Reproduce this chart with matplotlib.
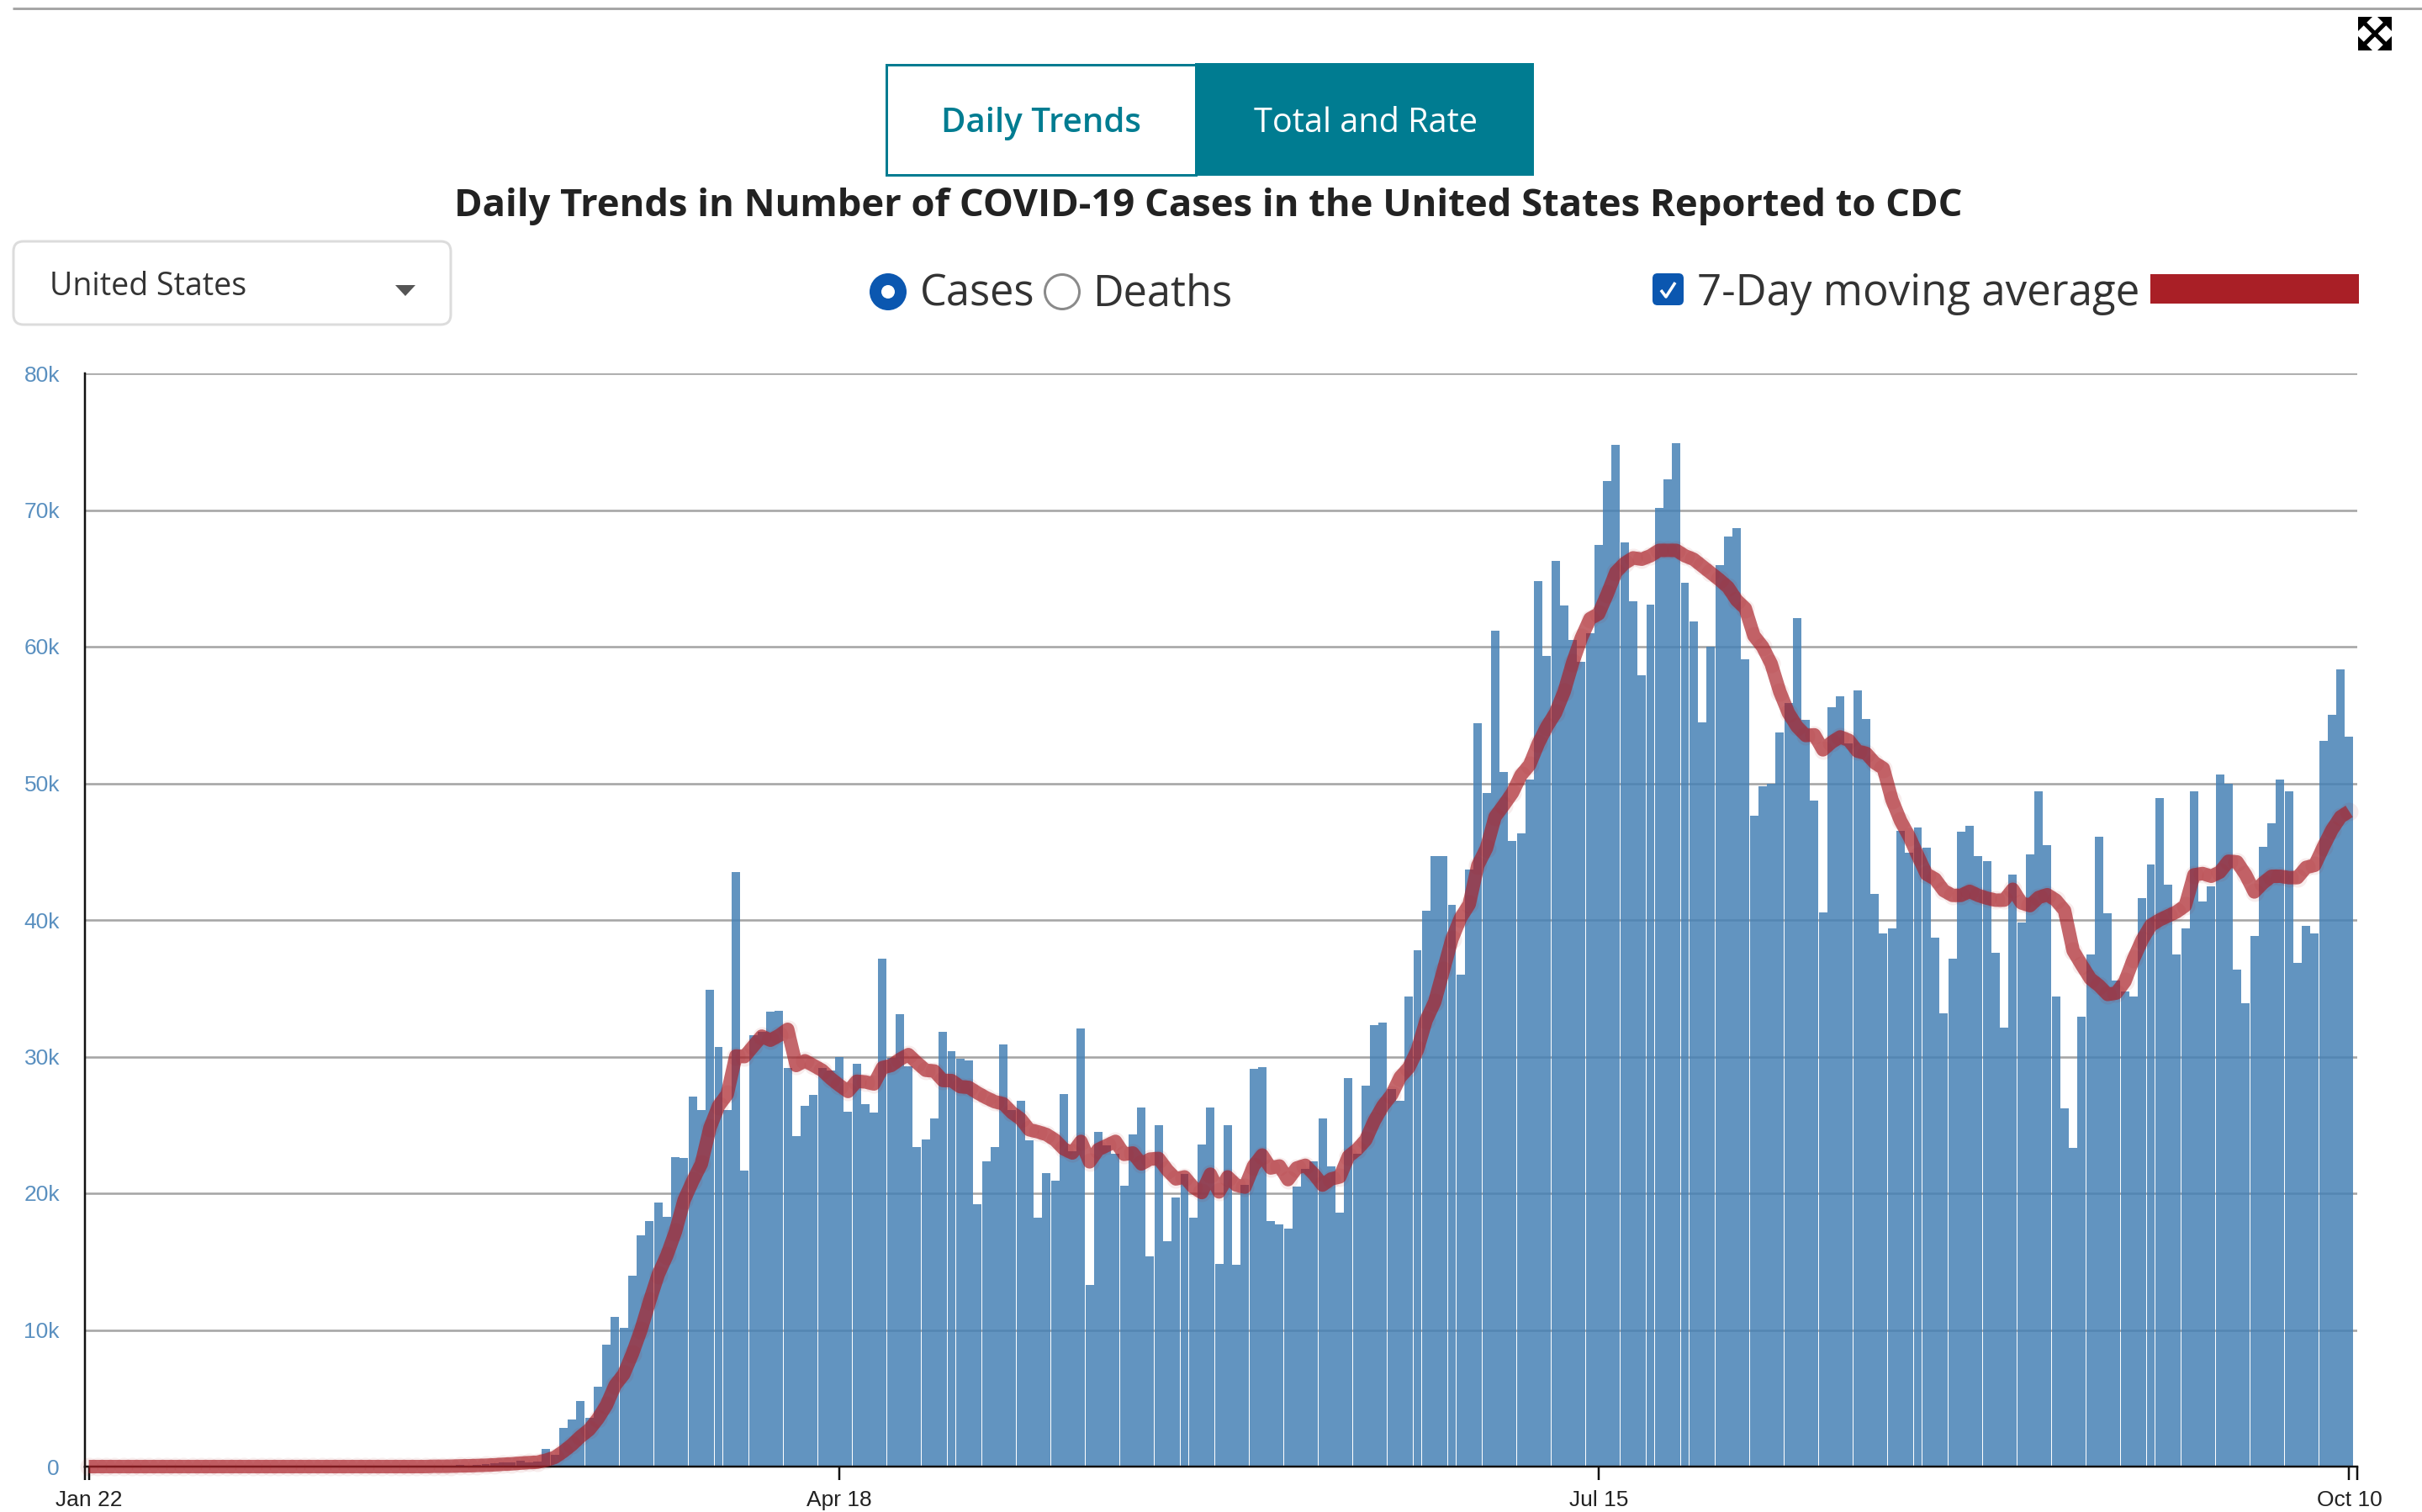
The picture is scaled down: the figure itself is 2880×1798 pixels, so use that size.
import matplotlib
matplotlib.use("Agg")
import matplotlib.pyplot as plt
from matplotlib.patches import Rectangle, FancyBboxPatch, Circle, Polygon
from matplotlib.ticker import FixedLocator

W, H = 2880, 1798

cases_early = [0] * 43 + [0.12, 0.06, 0.14, 0.20, 0.25, 0.28, 0.30, 0.45, 0.33, 0.40]
cases_mar_may = [
    1.3, 0.85, 2.85, 3.45, 4.8, 3.6, 5.85, 8.9, 10.95, 10.15, 14.0, 16.9, 17.95, 19.35, 18.3, 22.65,
    22.6, 27.1, 26.1, 34.9, 30.7, 26.1, 43.5, 21.65, 31.55, 31.8, 33.3, 33.35, 29.15, 24.2, 26.4, 27.2,
    29.2, 29.0, 30.0, 26.0, 29.5, 26.5, 25.9, 37.15, 29.9, 33.1, 29.3, 23.4, 23.95, 25.5, 31.8, 30.4,
    29.85, 29.75,
]
cases_may_jun = [
    19.2, 22.35, 23.4, 30.9, 26.1, 26.75, 23.85, 18.2, 21.5, 20.95, 27.25, 23.05, 32.05, 13.3, 24.5, 23.5,
    22.9, 20.55, 24.3, 26.3, 15.4, 25.0, 16.5, 19.7, 21.4, 18.2, 23.6, 26.25, 14.85, 25.0, 14.75, 20.6,
    29.1, 29.25, 18.0, 17.7, 17.4, 20.5, 21.8, 22.35, 25.5, 22.0, 18.6, 28.45, 22.9, 27.9, 32.3, 32.5,
    27.65, 26.75, 34.4, 37.8, 40.65,
]
cases_jun_aug = [
    44.65, 44.7, 41.1, 36.0, 43.7, 54.4, 49.3, 61.2, 50.85, 45.8, 46.35, 50.3, 64.8, 59.35, 66.3, 63.0,
    60.5, 58.9, 61.0, 67.45, 72.1, 74.8, 67.65, 63.3, 57.9, 63.05, 70.15, 72.25, 74.9, 64.65, 61.85, 54.45,
    60.0, 66.0, 68.05, 68.7, 59.05, 47.65, 49.8, 50.0, 53.75, 55.9, 62.1, 54.65, 48.75, 40.55, 55.6, 56.4,
    52.9, 56.8, 54.7, 41.9, 39.0, 39.4, 46.5, 44.95, 46.75, 45.3,
]
cases_aug_oct = [
    38.7, 33.15, 37.15, 46.45, 46.9, 44.7, 44.3, 37.6, 32.15, 43.3, 39.8, 44.8, 49.4, 45.45, 34.4, 26.2,
    23.35, 32.95, 37.5, 46.1, 40.5, 35.6, 34.75, 34.4, 41.6, 44.05, 48.9, 42.6, 37.5, 39.4, 49.4, 41.35,
    42.45, 50.65, 50.0, 36.4, 33.9, 38.85, 45.35, 47.1, 50.25, 49.4, 36.85, 39.6, 39.0, 53.1, 55.0, 58.35,
    53.4,
]
cases = cases_early + cases_mar_may + cases_may_jun + cases_jun_aug + cases_aug_oct

avg_early = [0] * 40 + [0.02, 0.02, 0.03, 0.05, 0.06, 0.08, 0.10, 0.13, 0.17, 0.20, 0.25, 0.29, 0.32]
avg_mar_may = [
    0.47, 0.67, 1.1, 1.6, 2.2, 2.7, 3.5, 4.5, 5.95, 6.75, 8.25, 10.0, 12.1, 14.05, 15.45, 17.2,
    19.5, 20.9, 22.15, 24.8, 26.4, 27.25, 30.05, 30.0, 30.75, 31.5, 31.2, 31.55, 32.0, 29.35, 29.7, 29.35,
    29.0, 28.4, 27.9, 27.45, 28.2, 28.15, 28.0, 29.2, 29.35, 29.8, 30.15, 29.55, 29.0, 28.95, 28.25, 28.25,
    27.8, 27.75,
]
avg_may_jun = [
    27.35, 27.0, 26.7, 26.55, 25.9, 25.45, 24.65, 24.5, 24.3, 23.9, 23.25, 22.95, 23.8, 22.3, 23.2, 23.5,
    23.8, 22.85, 22.95, 22.15, 22.5, 22.55, 21.7, 21.05, 21.2, 20.45, 20.05, 21.4, 20.1, 21.2, 20.6, 20.45,
    22.0, 22.8, 21.85, 22.0, 21.0, 21.85, 22.05, 21.4, 20.6, 21.05, 21.2, 22.7, 23.2, 23.9, 25.3, 26.4,
    27.2, 28.5, 29.2, 30.5, 32.65,
]
avg_jun_aug = [
    34.0, 36.3, 38.6, 40.15, 41.15, 44.0, 45.25, 47.55, 48.4, 49.3, 50.6, 51.35, 52.9, 54.15, 55.15, 56.7,
    58.85, 60.65, 62.05, 62.4, 63.85, 65.45, 66.1, 66.5, 66.4, 66.65, 67.05, 67.05, 67.05, 66.65, 66.4, 65.9,
    65.4, 64.9, 64.35, 63.4, 62.8, 60.8, 60.0, 58.75, 56.7, 55.15, 54.15, 53.5, 53.55, 52.45, 53.0, 53.4,
    53.15, 52.35, 52.2, 51.5, 51.1, 48.8, 47.25, 46.1, 44.7, 43.35,
]
avg_aug_oct = [
    43.0, 42.15, 41.8, 41.8, 42.1, 41.8, 41.6, 41.45, 41.45, 42.25, 41.25, 41.05, 41.65, 41.85, 41.45, 40.7,
    37.75, 36.7, 35.7, 35.2, 34.55, 34.65, 35.5, 37.15, 38.55, 39.6, 40.0, 40.3, 40.6, 41.05, 43.3, 43.4,
    43.2, 43.5, 44.3, 44.25, 43.3, 42.05, 42.7, 43.2, 43.2, 43.1, 43.1, 43.85, 44.0, 45.35, 46.6, 47.55,
    47.95,
]
moving_avg = avg_early + avg_mar_may + avg_may_jun + avg_jun_aug + avg_aug_oct

days = list(range(len(cases)))
x_tick_days = [0, 87, 175, 262]
x_tick_labels = ["Jan 22", "Apr 18", "Jul 15", "Oct 10"]
y_ticks = [0, 10, 20, 30, 40, 50, 60, 70, 80]

TEAL = "#007c91"
RED = "#a91f26"
BLUE = "#0b57b0"
DARK = "#222222"
PX = 72 / 100  # points per pixel


def pt(px):
    return px * PX


fig = plt.figure(figsize=(W / 100, H / 100), dpi=100, facecolor="white")

# chart area
ax_l, ax_r, ax_t, ax_b = 100.5, 2803, 444, 1744
ax = fig.add_axes([ax_l / W, 1 - ax_b / H, (ax_r - ax_l) / W, (ax_b - ax_t) / H])
day0_px, day_px = 105.6, 10.259
ax.set_xlim((ax_l - day0_px) / day_px, (ax_r - day0_px) / day_px)
ax.set_ylim(0, 80)
ax.set_axisbelow(True)

ax.bar(days, cases, width=0.97, color="#4681b5", alpha=0.85, linewidth=0, zorder=2)
ax.plot(days, moving_avg, linestyle="none", marker="o", ms=pt(22), mfc=RED, mec="none",
        alpha=0.08, clip_on=False, zorder=4)
ax.plot(days, moving_avg, color=RED, lw=pt(16), alpha=0.68, clip_on=False, zorder=4,
        solid_capstyle="butt", solid_joinstyle="round")

ax.yaxis.grid(True, color="#a6a6a6", lw=pt(2.6), zorder=1)
ax.xaxis.grid(False)
for s in ("top", "right"):
    ax.spines[s].set_visible(False)
for s in ("left", "bottom"):
    ax.spines[s].set_color("#111111")
    ax.spines[s].set_linewidth(pt(2.5))
    ax.spines[s].set_zorder(3)

ax.set_yticks(y_ticks)
ax.set_yticklabels(["0"] + [f"{v}k" for v in y_ticks[1:]])
ax.set_xticks(x_tick_days)
ax.set_xticklabels(x_tick_labels)
ax.yaxis.set_minor_locator(FixedLocator([0, 80]))
ax.xaxis.set_minor_locator(FixedLocator(list(ax.get_xlim())))
ax.tick_params(axis="y", which="major", length=0, pad=pt(29.5), labelsize=19, labelcolor="#5a90c0",
               labelfontfamily="Liberation Sans")
ax.tick_params(axis="y", which="minor", length=pt(20), width=pt(2.5), color="#111111")
ax.tick_params(axis="x", which="major", length=pt(16), width=pt(2.5), color="#111111", pad=pt(12),
               labelsize=19, labelcolor=DARK, labelfontfamily="Liberation Sans")
ax.tick_params(axis="x", which="minor", length=pt(16), width=pt(2.5), color="#111111")

# interface elements, placed in figure pixels
ui = fig.add_axes([0, 0, 1, 1], facecolor="none")
ui.set_xlim(0, W)
ui.set_ylim(H, 0)
ui.axis("off")

ui.plot([15, W], [9.5, 9.5], color="#a6a6a6", lw=pt(3), solid_capstyle="butt")

# tab buttons
ui.add_patch(Rectangle((1053.5, 76.5), 368, 131, fc="white", ec=TEAL, lw=pt(3)))
ui.add_patch(Rectangle((1421, 75), 403, 134, fc=TEAL, ec="none"))
ui.text(1238, 157, "Daily Trends", color=TEAL, ha="center", va="baseline", fontsize=29,
        family="Open Sans", weight=600)
ui.text(1624, 157, "Total and Rate", color="white", ha="center", va="baseline", fontsize=28.5,
        family="Open Sans")

# title
ui.text(1437, 257, "Daily Trends in Number of COVID-19 Cases in the United States Reported to CDC",
        color=DARK, ha="center", va="baseline", fontsize=32.7, family="Open Sans", weight="bold")

# dropdown
ui.add_patch(FancyBboxPatch((28, 299), 496, 75, boxstyle="round,pad=12,rounding_size=12",
                            fc="white", ec="#dcdcdc", lw=pt(3)))
ui.text(59, 351, "United States", color="#333333", ha="left", va="baseline", fontsize=27,
        family="Open Sans")
ui.add_patch(Polygon([(470, 339), (494, 339), (482, 352)], fc="#555555", ec="none"))

# radios
ui.add_patch(Circle((1056, 347), 22, fc=BLUE, ec="none"))
ui.add_patch(Circle((1056, 347), 8, fc="white", ec="none"))
ui.text(1094, 363, "Cases", color="#333333", ha="left", va="baseline", fontsize=36.4, family="Open Sans")
ui.add_patch(Circle((1263, 347), 20.5, fc="white", ec="#8a8a8a", lw=pt(3)))
ui.text(1299, 363, "Deaths", color="#333333", ha="left", va="baseline", fontsize=36.4, family="Open Sans")

# checkbox and legend swatch
ui.add_patch(FancyBboxPatch((1970, 330), 27, 28, boxstyle="round,pad=5,rounding_size=6", fc=BLUE, ec="none"))
ui.plot([1975, 1981, 1992], [345, 353, 336], color="white", lw=pt(3.5), solid_capstyle="butt")
ui.text(2018, 363, "7-Day moving average", color="#333333", ha="left", va="baseline", fontsize=36.7,
        family="Open Sans")
ui.add_patch(Rectangle((2557, 326), 248, 35, fc=RED, ec="none"))

# expand icon
cx0, cx1, cy0, cy1 = 2804, 2844, 20, 60
ui.plot([cx0 + 6, cx1 - 6], [cy0 + 6, cy1 - 6], color="black", lw=pt(5), solid_capstyle="butt")
ui.plot([cx0 + 6, cx1 - 6], [cy1 - 6, cy0 + 6], color="black", lw=pt(5), solid_capstyle="butt")
for (x, y, dx, dy) in [(cx0, cy0, 1, 1), (cx1, cy0, -1, 1), (cx0, cy1, 1, -1), (cx1, cy1, -1, -1)]:
    ui.add_patch(Polygon([(x, y), (x + dx * 17, y), (x, y + dy * 17)], fc="black", ec="none"))

fig.savefig("out.png", dpi=100)
